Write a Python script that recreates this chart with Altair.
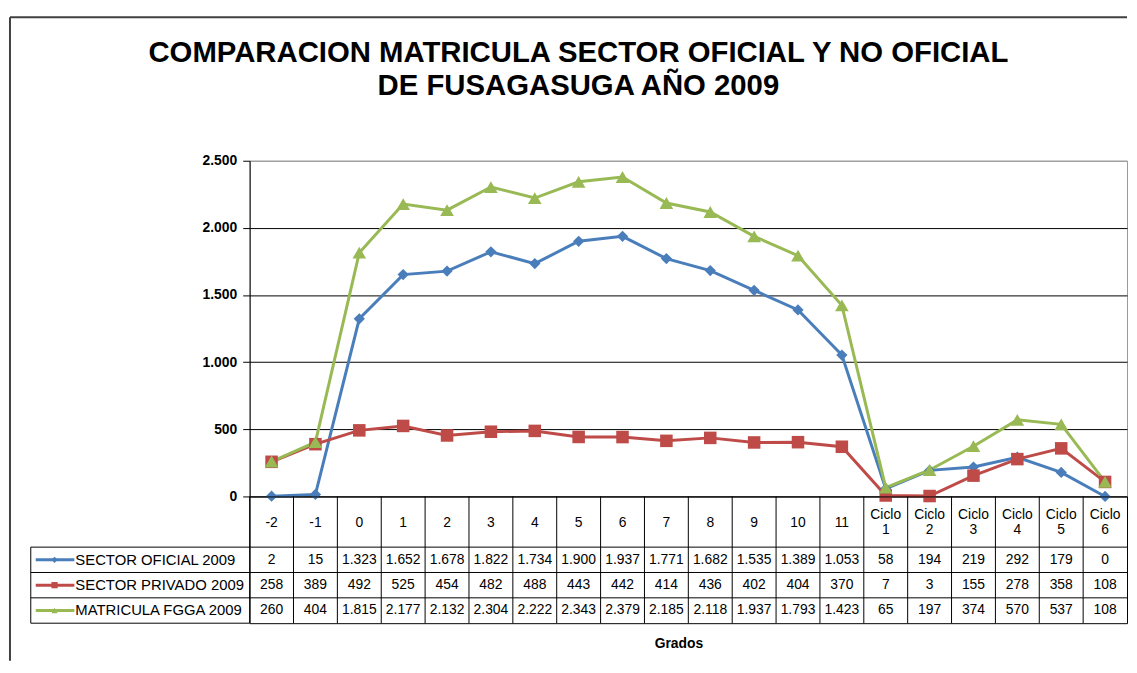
import altair as alt
import pandas as pd

# ---------------- data ----------------
categories = ["-2", "-1", "0", "1", "2", "3", "4", "5", "6", "7", "8", "9", "10", "11",
              "Ciclo 1", "Ciclo 2", "Ciclo 3", "Ciclo 4", "Ciclo 5", "Ciclo 6"]
series_names = ["SECTOR OFICIAL 2009", "SECTOR PRIVADO 2009", "MATRICULA FGGA 2009"]
oficial = [2, 15, 1323, 1652, 1678, 1822, 1734, 1900, 1937, 1771, 1682, 1535, 1389, 1053, 58, 194, 219, 292, 179, 0]
privado = [258, 389, 492, 525, 454, 482, 488, 443, 442, 414, 436, 402, 404, 370, 7, 3, 155, 278, 358, 108]
fgga = [260, 404, 1815, 2177, 2132, 2304, 2222, 2343, 2379, 2185, 2118, 1937, 1793, 1423, 65, 197, 374, 570, 537, 108]
series_values = [oficial, privado, fgga]
colors = ["#4A7EBB", "#BE4B48", "#98B954"]
shapes = ["diamond", "square", "triangle-up"]
marker_sizes = [130, 190, 190]
y_ticks = [0, 500, 1000, 1500, 2000, 2500]
title_lines = ["COMPARACION MATRICULA SECTOR OFICIAL Y NO OFICIAL", "DE FUSAGASUGA AÑO 2009"]
x_title = "Grados"

FONT = "Liberation Sans"
W, H, TH = 886, 339, 128
DOT = "replace(format(datum.value, ','), ',', '.')"

rows = []
for si, (name, vals) in enumerate(zip(series_names, series_values)):
    for ci, (cat, v) in enumerate(zip(categories, vals)):
        rows.append({"series": name, "cat": cat, "idx": ci, "value": v, "row": 2.5 + si})
df = pd.DataFrame(rows)
hdr = pd.DataFrame({"cat": categories,
                    "label": [c.replace(" ", "\n") for c in categories],
                    "multi": [" " in c for c in categories],
                    "hy": 1.0, "y0": 0.0, "y1": 5.0})
leg = pd.DataFrame({"series": series_names, "row": [2.5, 3.5, 4.5]})
hlines = pd.DataFrame({"yl": [2.0, 3.0, 4.0, 5.0]})
legbox = pd.DataFrame({"y0": [2.0], "y1": [5.0]})
one = pd.DataFrame({"k": [0]})

# ---------------- scales ----------------
xscale = alt.Scale(domain=categories, paddingInner=0, paddingOuter=0)
cscale = alt.Scale(domain=series_names, range=colors)
sscale = alt.Scale(domain=series_names, range=shapes)
zscale = alt.Scale(domain=series_names, range=marker_sizes)
yscale = alt.Scale(domain=[0, 2500], nice=False)
tscale = alt.Scale(domain=[0, 5], reverse=True, nice=False, zero=False)

yaxis = alt.Axis(values=y_ticks, labelExpr=DOT, labelFont=FONT, labelFontSize=14,
                 labelFontWeight="bold", labelColor="black", tickColor="black",
                 tickSize=7, labelPadding=6, domainColor="black", grid=True,
                 gridColor={"condition": {"test": "datum.value >= 2500", "value": "#9a9a9a"},
                            "value": "#000000"},
                 title=None)

x_top = alt.X("cat:N", sort=categories, scale=xscale, axis=None)
col = alt.Color("series:N", scale=cscale, legend=None)

frame_left = alt.Chart(one).mark_rule(color="#404040", strokeWidth=2).encode(
    x=alt.value(-242), y=alt.value(-145), y2=alt.value(505))
frame_top = alt.Chart(one).mark_rule(color="#404040", strokeWidth=2).encode(
    x=alt.value(-242), x2=alt.value(W), y=alt.value(-145))

lines = alt.Chart(df).mark_line(strokeWidth=3).encode(
    x=x_top, y=alt.Y("value:Q", scale=yscale, axis=yaxis), color=col, order="idx:Q")
points = alt.Chart(df).mark_point(filled=True, opacity=1).encode(
    x=x_top, y=alt.Y("value:Q", scale=yscale, axis=yaxis), color=col,
    shape=alt.Shape("series:N", scale=sscale, legend=None),
    size=alt.Size("series:O", scale=zscale, legend=None))

top = alt.layer(frame_left, frame_top, lines, points).properties(
    width=W, height=H, view=alt.ViewBackground(stroke="#9a9a9a", strokeWidth=1))

# ---------------- data table ----------------
xb_axis = alt.Axis(title=x_title, labels=False, ticks=False, domain=False, titleFont=FONT,
                   titleFontSize=14, titleFontWeight="bold", titleColor="black",
                   titlePadding=14, titleX=433)
xb = alt.X("cat:N", sort=categories, scale=xscale, axis=xb_axis)

vrules = alt.Chart(hdr).mark_rule(color="black", strokeWidth=1).encode(
    x=alt.X("cat:N", sort=categories, scale=xscale, axis=xb_axis, bandPosition=0),
    y=alt.Y("y0:Q", scale=tscale, axis=None), y2="y1:Q")
htext1 = alt.Chart(hdr).transform_filter("!datum.multi").mark_text(
    font=FONT, fontSize=14, color="black", baseline="middle", dy=1.5).encode(
    x=xb, y=alt.Y("hy:Q", scale=tscale, axis=None), text="label:N")
htext2 = alt.Chart(hdr).transform_filter("datum.multi").mark_text(
    font=FONT, fontSize=14, lineBreak="\n", lineHeight=15, color="black",
    baseline="middle", dy=-7).encode(
    x=xb, y=alt.Y("hy:Q", scale=tscale, axis=None), text="label:N")
vtext = alt.Chart(df).transform_calculate(txt=DOT).mark_text(
    font=FONT, fontSize=14, color="black", baseline="middle").encode(
    x=xb, y=alt.Y("row:Q", scale=tscale, axis=None), text="txt:N")
hrules_data = alt.Chart(hlines).transform_filter("datum.yl < 5").mark_rule(
    color="black", strokeWidth=1).encode(y=alt.Y("yl:Q", scale=tscale, axis=None))
hrules_leg = alt.Chart(hlines).mark_rule(color="black", strokeWidth=1).encode(
    x=alt.value(-221), x2=alt.value(0), y=alt.Y("yl:Q", scale=tscale, axis=None))
vrule_leg = alt.Chart(legbox).mark_rule(color="black", strokeWidth=1).encode(
    x=alt.value(-221), y=alt.Y("y0:Q", scale=tscale, axis=None), y2="y1:Q")
leg_line = alt.Chart(leg).mark_rule(strokeWidth=3).encode(
    x=alt.value(-216), x2=alt.value(-177),
    y=alt.Y("row:Q", scale=tscale, axis=None), color=col)
leg_pt = alt.Chart(leg).mark_point(filled=True, opacity=1, size=40).encode(
    x=alt.value(-197), y=alt.Y("row:Q", scale=tscale, axis=None), color=col,
    shape=alt.Shape("series:N", scale=sscale, legend=None))
leg_txt = alt.Chart(leg).mark_text(align="left", font=FONT, fontSize=15, color="black",
                                   baseline="middle").encode(
    x=alt.value(-176), y=alt.Y("row:Q", scale=tscale, axis=None), text="series:N")

bottom = alt.layer(vrules, hrules_data, htext1, htext2, vtext, hrules_leg, vrule_leg,
                   leg_line, leg_pt, leg_txt).properties(
    width=W, height=TH, view=alt.ViewBackground(stroke="black", strokeWidth=1))

chart = alt.vconcat(top, bottom, spacing=0, bounds="flush").properties(
    title=alt.TitleParams(text=title_lines, font=FONT, fontSize=29.6, fontWeight="bold",
                          color="black", anchor="middle", frame="bounds", offset=-87,
                          lineHeight=34, dx=10),
    padding={"left": 0, "top": 4, "right": 0, "bottom": 0},
    background="white",
)

chart.save("out.html", embed_options={"renderer": "svg", "actions": False})
